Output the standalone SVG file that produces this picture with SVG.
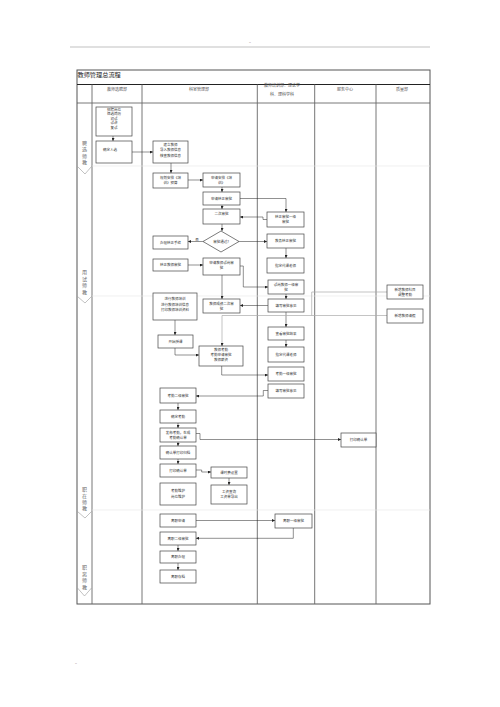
<svg xmlns="http://www.w3.org/2000/svg" width="500" height="707" viewBox="0 0 500 707">
<style>
.b{fill:#fff;stroke:#444;stroke-width:0.7}
.t{font-family:"Noto Sans CJK SC","Liberation Sans",sans-serif;font-size:3.5px;fill:#333;text-anchor:middle}
.h{font-family:"Noto Sans CJK SC","Liberation Sans",sans-serif;font-size:4px;fill:#555;text-anchor:middle}
.v{font-family:"Noto Sans CJK SC","Liberation Sans",sans-serif;font-size:5px;fill:#666;text-anchor:middle}
.c{fill:none;stroke:#222;stroke-width:0.5;marker-end:url(#a)}
.g{fill:none;stroke:#aaa;stroke-width:0.7}
.sep{stroke:#e6e6e6;stroke-width:0.6}
.col{stroke:#666;stroke-width:0.9}
</style>
<defs>
<marker id="a" viewBox="0 0 6 6" refX="6" refY="3" markerWidth="3" markerHeight="3" markerUnits="userSpaceOnUse" orient="auto"><path d="M0,0L6,3L0,6z" fill="#222"/></marker>
<marker id="ag" viewBox="0 0 6 6" refX="6" refY="3" markerWidth="3" markerHeight="3" markerUnits="userSpaceOnUse" orient="auto"><path d="M0,0L6,3L0,6z" fill="#222"/></marker>
</defs>
<rect width="500" height="707" fill="#fff"/>
<line x1="70" y1="47" x2="430" y2="47" stroke="#999" stroke-width="0.6"/>
<text x="250" y="43" class="t" fill="#999">..</text>
<text x="75" y="664" class="t" style="text-anchor:start" fill="#999">..</text>

<g id="frame">
<rect x="77" y="70" width="353" height="534" fill="none" stroke="#555" stroke-width="1"/>
<line x1="77" y1="84.5" x2="430" y2="84.5" stroke="#222" stroke-width="1"/>
<line x1="77" y1="103" x2="430" y2="103" stroke="#555" stroke-width="0.8"/>
<line x1="92" y1="84.5" x2="92" y2="604" class="col"/>
<line x1="142" y1="84.5" x2="142" y2="604" class="col"/>
<line x1="257.3" y1="84.5" x2="257.3" y2="604" class="col"/>
<line x1="314.7" y1="84.5" x2="314.7" y2="604" class="col"/>
<line x1="376" y1="84.5" x2="376" y2="604" class="col"/>
<line x1="92" y1="166" x2="430" y2="166" class="sep"/>
<line x1="92" y1="296" x2="430" y2="296" class="sep"/>
<line x1="92" y1="510" x2="430" y2="510" class="sep"/>
<text x="77.5" y="76.5" style="font-family:'Noto Sans CJK SC',sans-serif;font-size:6.2px;fill:#222">教师管理总流程</text>
<text x="117" y="91" class="h">教师选聘部</text>
<text x="199" y="91" class="h">科室管理部</text>
<text x="282" y="87" class="h">教师培训部、理论学</text>
<text x="282" y="95.5" class="h">科、理科学科</text>
<text x="345" y="91" class="h">服务中心</text>
<text x="402" y="91" class="h">质量部</text>
</g>

<g id="lanes">
<path d="M77.5,166.5L85,174L91.5,166.5" fill="none" stroke="#999" stroke-width="0.6"/>
<path d="M77.5,296.5L85,303L91.5,296.5" fill="none" stroke="#999" stroke-width="0.6"/>
<path d="M77.5,511.5L85,518L91.5,511.5" fill="none" stroke="#999" stroke-width="0.6"/>
<path d="M77.5,588L84.5,596L91.5,588" fill="none" stroke="#999" stroke-width="0.6"/>
<text class="v"><tspan x="84.5" y="144.5">聘</tspan><tspan x="84.5" y="151">选</tspan><tspan x="84.5" y="157.5">师</tspan><tspan x="84.5" y="164">教</tspan></text>
<text class="v"><tspan x="84.5" y="274">用</tspan><tspan x="84.5" y="280.5">试</tspan><tspan x="84.5" y="287">师</tspan><tspan x="84.5" y="293.5">教</tspan></text>
<text class="v"><tspan x="84.5" y="491">职</tspan><tspan x="84.5" y="497.5">在</tspan><tspan x="84.5" y="504">师</tspan><tspan x="84.5" y="510">教</tspan></text>
<text class="v"><tspan x="84.5" y="569">职</tspan><tspan x="84.5" y="575.5">离</tspan><tspan x="84.5" y="582">师</tspan><tspan x="84.5" y="588.5">教</tspan></text>
</g>

<g id="connectors">
<path class="c" d="M113,136L113,141"/>
<path class="c" d="M132,152L153,152"/>
<path class="c" d="M171,163L171,173"/>
<path class="c" d="M188,180L203,180"/>
<path class="c" d="M222,187L222,192"/>
<path class="c" d="M240,198.5L286,198.5L286,212"/>
<path class="c" d="M222,205L222,209"/>
<path class="c" d="M267,219.5L263,219.5L263,217L240,217"/>
<path class="c" d="M222,224L222,231"/>
<path class="c" d="M203,241.5L188,241.5"/>
<text x="197" y="240.5" class="t">否</text>
<path class="c" d="M239,241.5L267,241.5"/>
<path class="c" d="M286,248L286,258"/>
<path class="c" d="M188,265L203,265"/>
<path class="c" d="M240,266L243.3,266L243.3,287L268,287"/>
<path class="c" d="M222,275L222,299"/>
<path class="c" d="M286,294L286,299"/>
<path class="c" d="M268,305.5L240,305.5"/>
<path class="c" d="M286,312L286,327"/>
<path class="c" d="M286,340L286,347"/>
<path class="c" d="M175,320L175,335"/>
<path class="c" d="M175,348L175,355L199,355"/>
<path class="g" d="M387,292L311.7,292L311.7,315.5"/>
<path class="g" d="M387,315.5L222,315.5L222,343"/>
<path class="c" d="M222,343L222,346"/>
<path class="c" d="M221.7,366L221.7,375L268,375"/>
<path class="c" d="M268,390.5L263.3,390.5L263.3,396L196,396"/>
<path class="c" d="M178,403L178,410"/>
<path class="c" d="M178,423L178,428"/>
<path class="c" d="M196,433.5L200,433.5L200,439.5L341,439.5"/>
<path class="c" d="M178,442L178,446"/>
<path class="c" d="M178,459L178,464"/>
<path class="c" d="M196,470L201.7,470L201.7,472L211,472"/>
<path class="c" d="M229,478L229,485"/>
<path class="c" d="M196,520.5L275,520.5"/>
<path class="c" d="M293.3,528L293.3,538.3L196,538.3"/>
<path class="c" d="M178,545L178,551"/>
<path class="c" d="M178,563L178,570"/>
</g>

<g id="n1"><rect class="b" x="96" y="107" width="36" height="29"/><text class="t"><tspan x="114" y="110.5">招聘岗位</tspan><tspan x="114" y="115">筛选简历</tspan><tspan x="114" y="119.5">初试</tspan><tspan x="114" y="124">试讲</tspan><tspan x="114" y="128.5">复试</tspan></text></g>
<g id="n2"><rect class="b" x="96" y="141" width="36" height="22"/><text class="t" x="110" y="150.5">确定人选</text></g>
<g id="n3"><rect class="b" x="153" y="141" width="35" height="22"/><text class="t"><tspan x="170.5" y="145.5">建立教师</tspan><tspan x="170.5" y="151">导入教师信息</tspan><tspan x="170.5" y="156.5">核查教师信息</tspan></text></g>
<g id="n4"><rect class="b" x="153" y="173" width="35" height="15"/><text class="t"><tspan x="170.5" y="179">规划安排《培</tspan><tspan x="170.5" y="184">训》预算</tspan></text></g>
<g id="n5"><rect class="b" x="203" y="173" width="37" height="14"/><text class="t"><tspan x="221.5" y="178.5">申请安排《培</tspan><tspan x="221.5" y="183.5">训》</tspan></text></g>
<g id="n6"><rect class="b" x="203" y="192" width="37" height="13"/><text class="t" x="221.5" y="199.5">申请转正审批</text></g>
<g id="n7"><rect class="b" x="203" y="209" width="37" height="15"/><text class="t" x="221.5" y="215">二次审批</text></g>
<g id="d1"><path class="b" d="M221,231L239,241.5L221,252L203,241.5Z"/><text class="t" x="221" y="242.5">审批通过?</text></g>
<g id="n8"><rect class="b" x="153" y="236" width="35" height="13"/><text class="t" x="170.5" y="243.5">办理转正手续</text></g>
<g id="n9"><rect class="b" x="153" y="259" width="35" height="12"/><text class="t" x="170.5" y="266">转正教师审批</text></g>
<g id="n10"><rect class="b" x="203" y="258" width="37" height="17"/><text class="t"><tspan x="221.5" y="264">申请教师试岗审</tspan><tspan x="221.5" y="269">批</tspan></text></g>
<g id="n11"><rect class="b" x="153" y="293" width="44" height="27"/><text class="t"><tspan x="175" y="300">进行教师培训</tspan><tspan x="175" y="305.5">进行教师培训信息</tspan><tspan x="175" y="311">打印教师培训资料</tspan></text></g>
<g id="n12"><rect class="b" x="203" y="299" width="37" height="14"/><text class="t"><tspan x="221.5" y="304.5">教师成绩二次审</tspan><tspan x="221.5" y="309.5">批</tspan></text></g>
<g id="n13"><rect class="b" x="158" y="335" width="35" height="13"/><text class="t" x="175.5" y="342.5">开始授课</text></g>
<g id="n14"><rect class="b" x="199" y="346" width="44" height="20"/><text class="t"><tspan x="221" y="350.5">教师考勤</tspan><tspan x="221" y="355.5">考勤申请审批</tspan><tspan x="221" y="360.5">教师薪资</tspan></text></g>
<g id="n15"><rect class="b" x="160" y="388" width="36" height="15"/><text class="t" x="178" y="396.5">考勤二级审批</text></g>
<g id="n16"><rect class="b" x="160" y="410" width="36" height="13"/><text class="t" x="178" y="417.5">确定考勤</text></g>
<g id="n17"><rect class="b" x="160" y="428" width="36" height="14"/><text class="t"><tspan x="178" y="433.5">发布考勤，生成</tspan><tspan x="178" y="438.5">考勤确认单</tspan></text></g>
<g id="n18"><rect class="b" x="160" y="446" width="36" height="13"/><text class="t" x="178" y="453.5">确认单打印归档</text></g>
<g id="n19"><rect class="b" x="160" y="464" width="36" height="13"/><text class="t" x="178" y="471.5">打印确认单</text></g>
<g id="n20"><rect class="b" x="160" y="483" width="36" height="22"/><text class="t"><tspan x="178" y="492">考勤维护</tspan><tspan x="178" y="497.5">岗位维护</tspan></text></g>
<g id="n21"><rect class="b" x="211" y="467" width="36" height="11"/><text class="t" x="229" y="473.5">课时费设置</text></g>
<g id="n22"><rect class="b" x="211" y="485" width="36" height="19"/><text class="t"><tspan x="229" y="493">工资查询</tspan><tspan x="229" y="498">工资单导出</tspan></text></g>
<g id="n23"><rect class="b" x="160" y="514" width="36" height="13"/><text class="t" x="178" y="521.5">离职申请</text></g>
<g id="n24"><rect class="b" x="160" y="532" width="36" height="13"/><text class="t" x="178" y="539.5">离职二级审批</text></g>
<g id="n25"><rect class="b" x="160" y="551" width="36" height="12"/><text class="t" x="178" y="558">离职办理</text></g>
<g id="n26"><rect class="b" x="160" y="570" width="36" height="13"/><text class="t" x="178" y="577.5">离职存档</text></g>

<g id="m1"><rect class="b" x="267" y="212" width="37" height="15"/><text class="t"><tspan x="285.5" y="218">转正审批一级</tspan><tspan x="285.5" y="223">审批</tspan></text></g>
<g id="m2"><rect class="b" x="267" y="234" width="37" height="14"/><text class="t" x="285.5" y="242">教务转正审批</text></g>
<g id="m3"><rect class="b" x="267" y="258" width="37" height="15"/><text class="t" x="285.5" y="266.5">指定代课老师</text></g>
<g id="m4"><rect class="b" x="268" y="280" width="36" height="14"/><text class="t"><tspan x="286" y="285.5">试岗教师一级审</tspan><tspan x="286" y="290.5">批</tspan></text></g>
<g id="m5"><rect class="b" x="268" y="299" width="36" height="13"/><text class="t" x="286" y="306.5">填写审批意见</text></g>
<g id="m6"><rect class="b" x="268" y="327" width="36" height="13"/><text class="t" x="286" y="334.5">查看审批结果</text></g>
<g id="m7"><rect class="b" x="268" y="347" width="36" height="15"/><text class="t" x="286" y="355.5">指定代课老师</text></g>
<g id="m8"><rect class="b" x="268" y="367" width="36" height="14"/><text class="t" x="286" y="375">考勤一级审批</text></g>
<g id="m9"><rect class="b" x="268" y="384" width="36" height="14"/><text class="t" x="286" y="392">填写审批意见</text></g>
<g id="m10"><rect class="b" x="275" y="514" width="37" height="14"/><text class="t" x="293.5" y="522">离职一级审批</text></g>

<g id="c1"><rect class="b" x="341" y="433" width="35" height="14"/><text class="t" x="358.5" y="441">打印确认单</text></g>
<g id="q1"><rect class="b" x="387" y="285" width="36" height="14"/><text class="t"><tspan x="405" y="290.5">新增教师科目</tspan><tspan x="405" y="295.5">调整考勤</tspan></text></g>
<g id="q2"><rect class="b" x="387" y="309" width="36" height="14"/><text class="t" x="405" y="317">新增教师请假</text></g>
</svg>
